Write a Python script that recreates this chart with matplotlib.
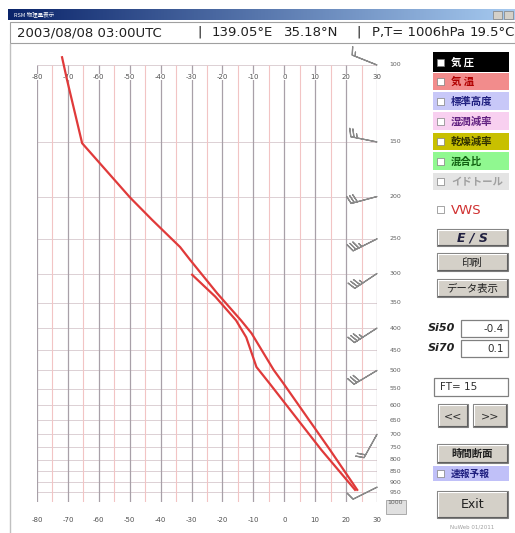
import numpy as np
import matplotlib
matplotlib.use("Agg")
import matplotlib.pyplot as plt
from matplotlib.patches import Rectangle
from matplotlib.colors import LinearSegmentedColormap

JP = ["Noto Sans CJK JP", "DejaVu Sans"]

# ── data ─────────────────────────────────────────────────────────────────────
TEMP_P = [96, 108, 151, 201, 226, 261, 279, 333, 384, 411, 499, 535, 760, 938]
TEMP_T = [-71.9, -70.3, -65.4, -49.9, -42.8, -33.7, -30.5, -21.7, -14.0, -10.6,
          -3.4, -0.3, 14.8, 23.6]
FCST_P = [302, 339, 384, 420, 491, 535, 760, 938]
FCST_T = [-29.8, -22.3, -15.6, -12.3, -9.0, -4.8, 12.0, 22.9]

WIND_P = [100, 150, 200, 250, 300, 400, 500, 700, 925]
WIND_U = [15, 25, 30, 30, 30, 28, 25, 10, 8]
WIND_V = [-6, -5, 8, 15, 20, 18, 15, 18, 4]

T_TICKS = list(range(-80, 31, 10))
T_HALF = list(range(-75, 30, 10))
P_LEVELS = list(range(100, 1001, 50))

HEADER = ["2003/08/08 03:00UTC", "|", "139.05°E", "35.18°N", "|",
          "P,T= 1006hPa", "19.5°C"]
HEADER_X = [17, 197, 212, 284, 356, 372, 470]

LAYERS = ["気 圧", "気 温", "標準高度", "湿潤減率", "乾燥減率", "混合比", "イドトール"]
LAYER_BG = ["#000000", "#f28c8c", "#c8c8f8", "#f8d0f0", "#c8c000", "#90f890", "#e4e4e4"]
LAYER_FG = ["#ffffff", "#b00000", "#202080", "#602080", "#303000", "#106010", "#a0a0a0"]
LAYER_Y = [(52, 72), (73, 90), (92, 110), (112, 130), (133, 150), (152, 170), (173, 190)]


# ── helpers ───────────────────────────────────────────────────────────────────

def button(ax, x0, y0, x1, y1, label, **kw):
    ax.add_patch(Rectangle((x0, y0), x1 - x0, y1 - y0, facecolor="#d4d0c8",
                           edgecolor="#808080", lw=0.8))
    ax.plot([x0 + 1, x1 - 1], [y0 + 1, y0 + 1], color="white", lw=0.8)
    ax.plot([x0 + 1, x0 + 1], [y0 + 1, y1 - 1], color="white", lw=0.8)
    ax.plot([x0 + 1, x1 - 1], [y1 - 1, y1 - 1], color="#606060", lw=0.8)
    ax.plot([x1 - 1, x1 - 1], [y0 + 1, y1 - 1], color="#606060", lw=0.8)
    ax.text((x0 + x1) / 2, (y0 + y1) / 2 + 0.5, label, ha="center", va="center", **kw)


def field(ax, x0, y0, x1, y1, label, ha="right", fs=7.5):
    ax.add_patch(Rectangle((x0, y0), x1 - x0, y1 - y0, facecolor="white",
                           edgecolor="#808080", lw=0.9))
    tx = x1 - 4 if ha == "right" else x0 + 6
    ax.text(tx, (y0 + y1) / 2 + 0.5, label, ha=ha, va="center", fontsize=fs,
            color="#303030")


fig = plt.figure(figsize=(5.15, 5.33), dpi=100)
fig.patch.set_facecolor("white")

# window chrome in pixel coordinates
bg = fig.add_axes([0, 0, 1, 1], zorder=0)
grad = LinearSegmentedColormap.from_list("tb", ["#0a246a", "#a6caf0"])
bg.imshow(np.linspace(0, 1, 256)[None, :], cmap=grad, extent=(8, 515, 20, 9),
          aspect="auto")
bg.set_xlim(0, 515)
bg.set_ylim(533, 0)
bg.axis("off")
bg.text(14, 14.5, "RSM 物理量表示", fontsize=4, color="white", va="center",
        family=JP)
for bx in [493, 504]:
    bg.add_patch(Rectangle((bx, 11), 9, 8, facecolor="#d4d0c8", edgecolor="#808080", lw=0.5))

# header line
bg.add_patch(Rectangle((10, 22), 505, 21, facecolor="white", edgecolor="#a0a0a0", lw=0.8))
for txt, x in zip(HEADER, HEADER_X):
    bg.text(x, 32.5, txt, fontsize=9.5, va="center", ha="left", color="#202020")

# left window border
bg.plot([10, 10], [44, 533], color="#c0c0c0", lw=1.0)

# layer check boxes
for (y0, y1), name, fc, tc in zip(LAYER_Y, LAYERS, LAYER_BG, LAYER_FG):
    bg.add_patch(Rectangle((433, y0), 76, y1 - y0, facecolor=fc, edgecolor="none"))
    bg.add_patch(Rectangle((437, (y0 + y1) / 2 - 3.5), 7, 7, facecolor="white",
                           edgecolor="#808080", lw=0.5))
    bg.text(451, (y0 + y1) / 2 + 0.5, name, fontsize=7.5, va="center", ha="left",
            color=tc, family=JP, weight="bold")

bg.add_patch(Rectangle((437, 206), 7, 7, facecolor="white", edgecolor="#808080", lw=0.5))
bg.text(451, 210, "VWS", fontsize=9.5, va="center", color="#d03030")

button(bg, 437, 229, 508, 246, "E / S", fontsize=9, style="italic", weight="bold",
       color="#202040")
button(bg, 437, 253, 508, 271, "印刷", fontsize=7.5, family=JP, color="#202020")
button(bg, 437, 279, 508, 297, "データ表示", fontsize=7.5, family=JP, color="#202020")

bg.text(455, 328, "Si50", fontsize=8, style="italic", weight="bold", ha="right",
        va="center", color="#202020")
field(bg, 461, 320, 508, 337, "-0.4")
bg.text(455, 348, "Si70", fontsize=8, style="italic", weight="bold", ha="right",
        va="center", color="#202020")
field(bg, 461, 340, 508, 357, "0.1")
field(bg, 434, 378, 508, 396, "FT= 15", ha="left")

button(bg, 438, 404, 468, 427, "<<", fontsize=8, color="#303030")
button(bg, 473, 404, 507, 427, ">>", fontsize=8, color="#303030")
button(bg, 437, 444, 508, 463, "時間断面", fontsize=7.5, family=JP, color="#202020",
       weight="bold")
bg.add_patch(Rectangle((433, 466), 76, 15, facecolor="#c0c0f8", edgecolor="none"))
bg.add_patch(Rectangle((437, 470), 7, 7, facecolor="white", edgecolor="#808080", lw=0.5))
bg.text(451, 474, "速報予報", fontsize=7, va="center", color="#202080", family=JP,
        weight="bold")
button(bg, 437, 491, 508, 518, "Exit", fontsize=9, color="#202020")
bg.text(472, 527, "NuWeb 01/2011", fontsize=4, ha="center", va="center", color="#a0a0a0")

# small tile at the bottom right of the chart
bg.add_patch(Rectangle((386, 500), 20, 14, facecolor="#e0e0e0", edgecolor="#a0a0a0", lw=0.6))

# ── emagram ───────────────────────────────────────────────────────────────────
ax = fig.add_axes([37 / 515, 1 - 502 / 533, 340 / 515, 437 / 533], zorder=2)
ax.set_facecolor("none")
ax.set_yscale("log")
ax.set_xlim(-80, 30)
ax.set_ylim(1000, 100)
for s in ax.spines.values():
    s.set_visible(False)
ax.set_xticks([])
ax.set_yticks([])
ax.minorticks_off()

ax.hlines(P_LEVELS, -80, 30, color="#dcd0d4", lw=0.7, zorder=1)
ax.vlines(T_HALF, 100, 1000, color="#f2c4c4", lw=0.8, zorder=1)
ax.vlines(T_TICKS, 100, 1000, color="#a8a0a8", lw=0.9, zorder=1)

for t in T_TICKS:
    ax.text(t, 106.5, f"{t}", fontsize=5, ha="center", va="center", color="#505050",
            bbox=dict(facecolor="white", edgecolor="none", pad=0.3), zorder=3)
    ax.text(t, -0.041, f"{t}", fontsize=5, ha="center", va="center", color="#505050",
            transform=ax.get_xaxis_transform(), clip_on=False)
for p in P_LEVELS:
    ax.text(36, p, f"{p}", fontsize=4.5, ha="center", va="center", color="#606060",
            clip_on=False)

ax.plot(TEMP_T, TEMP_P, color="#e03a3a", lw=1.6, clip_on=False, zorder=4)
ax.plot(FCST_T, FCST_P, color="#e03a3a", lw=1.6, clip_on=False, zorder=4)

ax.barbs([30] * len(WIND_P), WIND_P, WIND_U, WIND_V, length=6.2, color="#8a8a8a",
         lw=0.9, clip_on=False, zorder=3,
         sizes=dict(height=0.3, spacing=0.12, width=0.2))

fig.savefig("out.png", dpi=100, facecolor="white")
